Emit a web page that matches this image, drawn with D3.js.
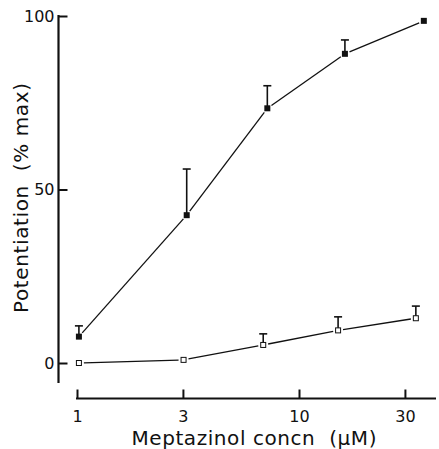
<!DOCTYPE html>
<html><head><meta charset="utf-8">
<script src="https://cdn.jsdelivr.net/npm/d3@7/dist/d3.min.js"></script>
<style>body{margin:0;background:#fff}svg{display:block}text{font-family:"DejaVu Sans",sans-serif;fill:#111;white-space:pre}</style>
</head><body>
<svg id="c" width="439" height="449"></svg>
<script>
// Data
const filledConc = [1.02, 3.12, 7.2, 16.1, 36.5];
const filledVal  = [7.6, 42.6, 73.4, 89.1, 98.6];
const filledErrTop = [10.7, 55.9, 79.9, 93.1, null];
const openConc = [1.02, 3.02, 6.9, 15.0, 33.6];
const openVal  = [0, 0.9, 5.2, 9.4, 12.9];
const openErrTop = [null, null, 8.4, 13.3, 16.4];
const xTicks = [1, 3, 10, 30];
const yTicks = [0, 50, 100];
const xTitle = "Meptazinol concn  (\u03bcM)";
const yTitle = "Potentiation  (% max)";

const svg = d3.select("#c");
const x = d3.scaleLog().domain([1, 10]).range([77, 299]);
const y = d3.scaleLinear().domain([0, 100]).range([363, 16]);
const axX = 58.5, axY = 398.5;

// Y axis
const gy = svg.append("g").attr("transform", `translate(${axX},0)`)
  .call(d3.axisLeft(y).tickValues(yTicks).tickSizeInner(-9).tickSizeOuter(0).tickPadding(4));
gy.select(".domain").remove();
gy.selectAll(".tick line").attr("stroke", "#111").attr("stroke-width", 2);
gy.selectAll(".tick text").attr("font-size", 16).attr("fill", "#111").style("font-family", "DejaVu Sans");
svg.append("line").attr("x1", axX).attr("x2", axX).attr("y1", y(100) - 1).attr("y2", 383)
  .attr("stroke", "#111").attr("stroke-width", 2.2);

// X axis
const gx = svg.append("g").attr("transform", `translate(0,${axY})`)
  .call(d3.axisBottom(x).tickValues(xTicks).tickFormat(d3.format("d")).tickSizeInner(-9).tickSizeOuter(0).tickPadding(12));
gx.select(".domain").remove();
gx.selectAll(".tick line").attr("stroke", "#111").attr("stroke-width", 2);
gx.selectAll(".tick text").attr("font-size", 16).attr("fill", "#111").style("font-family", "DejaVu Sans");
svg.append("line").attr("x1", x(1) - 1).attr("x2", 436).attr("y1", axY).attr("y2", axY)
  .attr("stroke", "#111").attr("stroke-width", 2.2);

// Titles
svg.append("text").attr("x", 254).attr("y", 445).attr("text-anchor", "middle")
  .attr("font-size", 20).attr("textLength", 245).attr("lengthAdjust", "spacing").text(xTitle);
svg.append("text").attr("transform", "translate(28,198) rotate(-90)").attr("text-anchor", "middle")
  .attr("font-size", 20).attr("textLength", 230).attr("lengthAdjust", "spacing").text(yTitle);

function series(conc, val, err, filled) {
  const pts = conc.map((c, i) => ({px: x(c), py: y(val[i]), e: err[i]}));
  const gap = 5;
  for (let i = 0; i < pts.length - 1; i++) {
    const a = pts[i], b = pts[i + 1];
    const dx = b.px - a.px, dy = b.py - a.py, L = Math.hypot(dx, dy);
    const ux = dx / L, uy = dy / L;
    svg.append("line")
      .attr("x1", a.px + ux * gap).attr("y1", a.py + uy * gap)
      .attr("x2", b.px - ux * gap).attr("y2", b.py - uy * gap)
      .attr("stroke", "#111").attr("stroke-width", 1.3);
  }
  pts.forEach(p => {
    if (p.e != null) {
      const ty = y(p.e);
      svg.append("line").attr("x1", p.px).attr("x2", p.px).attr("y1", p.py).attr("y2", ty)
        .attr("stroke", "#111").attr("stroke-width", 1.6);
      svg.append("line").attr("x1", p.px - 4).attr("x2", p.px + 4).attr("y1", ty).attr("y2", ty)
        .attr("stroke", "#111").attr("stroke-width", 1.6);
    }
    if (filled) {
      svg.append("rect").attr("x", p.px - 3).attr("y", p.py - 3).attr("width", 6).attr("height", 6).attr("fill", "#111");
    } else {
      svg.append("rect").attr("x", p.px - 2.5).attr("y", p.py - 2.5).attr("width", 5).attr("height", 5)
        .attr("fill", "#fff").attr("stroke", "#111").attr("stroke-width", 1);
    }
  });
}
series(filledConc, filledVal, filledErrTop, true);
series(openConc, openVal, openErrTop, false);
</script>
</body></html>
